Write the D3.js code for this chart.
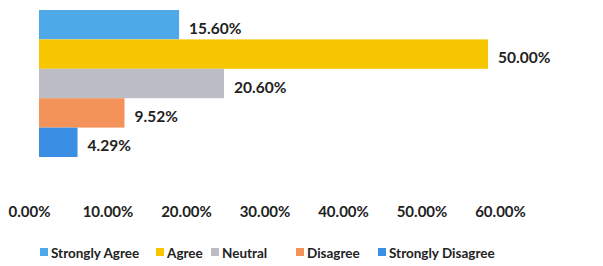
<!DOCTYPE html>
<html>
<head>
<meta charset="utf-8">
<script src="https://cdn.jsdelivr.net/npm/d3@7"></script>
<style>
  body { margin: 0; background: #fff; }
  text { font-family: Lato, "Open Sans", sans-serif; font-weight: bold; fill: #222; }
</style>
</head>
<body>
<div id="chart"></div>
<script>
const categories = ["Strongly Agree", "Agree", "Neutral", "Disagree", "Strongly Disagree"];
const values = [0.156, 0.50, 0.206, 0.0952, 0.0429];
const colors = ["#4ea9e8", "#f6c700", "#bcbdc4", "#f3935a", "#3a8fe4"];
const tickValues = [0, 0.1, 0.2, 0.3, 0.4, 0.5, 0.6];

const width = 603, height = 266;
const svg = d3.select("#chart").append("svg").attr("width", width).attr("height", height);

// bars (photo is skewed, so the bar scale and the label row do not share one spacing)
const x = d3.scaleLinear().domain([0, 0.5]).range([39, 488]);
const y = d3.scaleBand().domain(categories).range([10, 157]).padding(0);

svg.selectAll(".bar")
  .data(categories)
  .enter()
  .append("rect")
  .attr("class", "bar")
  .attr("x", x(0))
  .attr("y", d => y(d))
  .attr("width", (d, i) => x(values[i]) - x(0))
  .attr("height", y.bandwidth())
  .attr("fill", (d, i) => colors[i]);

svg.selectAll(".val")
  .data(categories)
  .enter()
  .append("text")
  .attr("class", "val")
  .attr("x", (d, i) => x(values[i]) + 10)
  .attr("y", d => y(d) + y.bandwidth() / 2 + 9)
  .attr("font-size", "15.5px")
  .text((d, i) => (values[i] * 100).toFixed(2) + "%");

// axis labels
const xAxisScale = d3.scaleLinear().domain([0, 0.6]).range([29, 500]);
const axis = svg.append("g")
  .attr("transform", "translate(0,206)")
  .call(d3.axisBottom(xAxisScale).tickValues(tickValues).tickSize(0).tickPadding(0)
    .tickFormat(d => (d * 100).toFixed(2) + "%"));
axis.select(".domain").remove();
axis.selectAll("text")
  .attr("font-size", "15px")
  .attr("font-family", "Lato, 'Open Sans', sans-serif")
  .attr("fill", "#222");

// legend
const legendX = [40, 156, 211, 296, 378];
const legend = svg.selectAll(".legend")
  .data(categories)
  .enter()
  .append("g")
  .attr("class", "legend")
  .attr("transform", (d, i) => `translate(${legendX[i]},248)`);

legend.append("rect")
  .attr("width", 8)
  .attr("height", 8)
  .attr("fill", (d, i) => colors[i]);

legend.append("text")
  .attr("x", 11)
  .attr("y", 10)
  .attr("font-size", "13.5px")
  .text(d => d);
</script>
</body>
</html>
